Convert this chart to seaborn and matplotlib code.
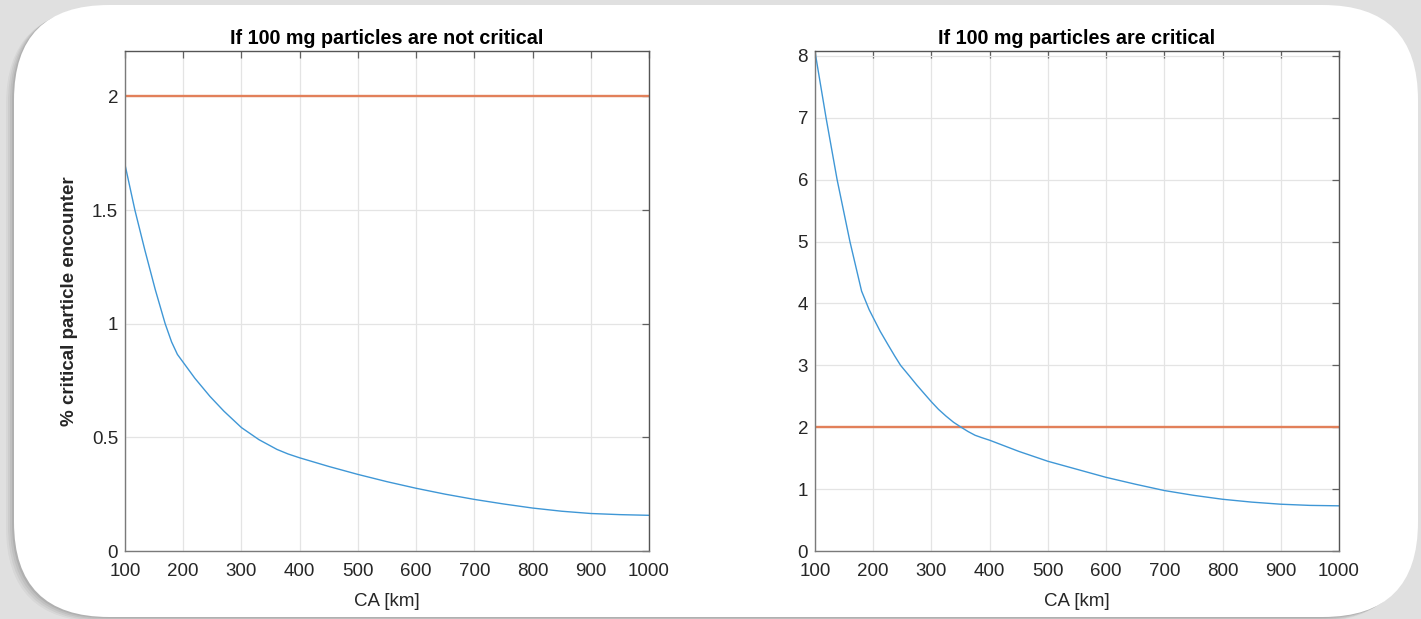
import numpy as np
import pandas as pd
import matplotlib
matplotlib.use("Agg")
import matplotlib.pyplot as plt
from matplotlib.patches import FancyBboxPatch
import seaborn as sns

# ---------------- data ----------------
ca_left = [100, 117, 134, 152, 169, 180, 190, 200, 220, 246, 270, 300, 330, 361, 380, 400, 450,
           500, 550, 600, 650, 700, 750, 800, 850, 900, 950, 1000]
pct_left = [1.70, 1.50, 1.325, 1.15, 1.00, 0.92, 0.865, 0.83, 0.76, 0.68, 0.615, 0.543, 0.49, 0.447, 0.427, 0.41, 0.372,
            0.337, 0.305, 0.276, 0.25, 0.227, 0.207, 0.189, 0.175, 0.165, 0.16, 0.157]

ca_right = [100, 119, 138, 160, 180, 193, 200, 212, 225, 237, 247, 262, 275, 287, 300, 312, 325, 338, 351, 363, 375,
            387, 400, 450, 500, 550, 600, 650, 700, 750, 800, 850, 900, 950, 1000]
pct_right = [8.07, 7.0, 6.0, 5.0, 4.2, 3.9, 3.77, 3.55, 3.34, 3.15, 3.0, 2.83, 2.68, 2.55, 2.41, 2.29, 2.18, 2.08, 2.0, 1.93, 1.87,
             1.83, 1.79, 1.61, 1.45, 1.32, 1.19, 1.08, 0.977, 0.90, 0.836, 0.79, 0.756, 0.737, 0.73]

threshold_x = [100, 1000]
threshold_y = [2, 2]

titles = ["If 100 mg particles are not critical", "If 100 mg particles are critical"]
xlabel = "CA [km]"
ylabel = "% critical particle encounter"
xticks = [100, 200, 300, 400, 500, 600, 700, 800, 900, 1000]
yticks_left = [0, 0.5, 1, 1.5, 2]
yticks_right = [0, 1, 2, 3, 4, 5, 6, 7, 8]

# ---------------- style ----------------
sns.set_style("white")
plt.rcParams['font.family'] = ['Liberation Sans', 'DejaVu Sans']

W, H = 1421, 619
fig = plt.figure(figsize=(W / 100, H / 100), dpi=100)
fig.patch.set_facecolor("#e0e0e0")

# background rounded panel
bg = fig.add_axes([0, 0, 1, 1], zorder=-10)
bg.set_xlim(0, W)
bg.set_ylim(H, 0)
bg.axis("off")
for i, a in enumerate([0.04, 0.05, 0.06, 0.08]):
    off = 8 - 2 * i
    bg.add_patch(FancyBboxPatch((14 - off, 5 + off * 0.6), 1404, 612,
                                boxstyle="round,pad=0,rounding_size=95",
                                facecolor="black", edgecolor="none", alpha=a))
bg.add_patch(FancyBboxPatch((14, 5), 1404, 612,
                            boxstyle="round,pad=0,rounding_size=95",
                            facecolor="white", edgecolor="none"))

blue = "#3f97d6"
orange = "#e2805a"
spine_c = "#7a7a7a"
tick_c = "#262626"

def style_axes(ax, yticks, ylim, title):
    ax.set_facecolor("white")
    ax.set_xlim(100, 1000)
    ax.set_ylim(*ylim)
    ax.set_xticks(xticks)
    ax.set_yticks(yticks)
    ax.set_xticklabels([f"{v:g}" for v in xticks])
    ax.set_yticklabels([f"{v:g}" for v in yticks])
    ax.grid(True, color="#e4e4e4", linewidth=0.9)
    ax.set_axisbelow(True)
    for s in ax.spines.values():
        s.set_visible(True)
        s.set_color(spine_c)
        s.set_linewidth(1.0)
    ax.spines["top"].set_color("#555555")
    ax.spines["right"].set_color("#555555")
    ax.tick_params(direction="in", length=5, width=0.9, color="#606060",
                   top=True, right=True, labelsize=13.5, labelcolor=tick_c)
    ax.tick_params(axis="x", pad=9)
    ax.tick_params(axis="y", pad=5)
    ax.set_title(title, fontsize=14.2, fontweight="bold", color="black", pad=5)
    ax.set_xlabel(xlabel, fontsize=13.5, color=tick_c, labelpad=9)

axL = fig.add_axes([125 / W, 1 - 551 / H, 524 / W, 500 / H])
axR = fig.add_axes([815 / W, 1 - 551 / H, 524 / W, 500 / H])

dfL = pd.DataFrame({"CA": ca_left, "pct": pct_left})
dfR = pd.DataFrame({"CA": ca_right, "pct": pct_right})
dfT = pd.DataFrame({"CA": threshold_x, "pct": threshold_y})

sns.lineplot(data=dfT, x="CA", y="pct", ax=axL, color=orange, linewidth=1.7)
sns.lineplot(data=dfL, x="CA", y="pct", ax=axL, color=blue, linewidth=1.0)
sns.lineplot(data=dfT, x="CA", y="pct", ax=axR, color=orange, linewidth=1.7)
sns.lineplot(data=dfR, x="CA", y="pct", ax=axR, color=blue, linewidth=1.0)

style_axes(axL, yticks_left, (0, 2.2), titles[0])
style_axes(axR, yticks_right, (0, 8.08), titles[1])
axL.set_ylabel(ylabel, fontsize=13.5, fontweight="bold", color=tick_c, labelpad=10)
axR.set_ylabel("")

fig.savefig("out.png", dpi=100, facecolor=fig.get_facecolor())
